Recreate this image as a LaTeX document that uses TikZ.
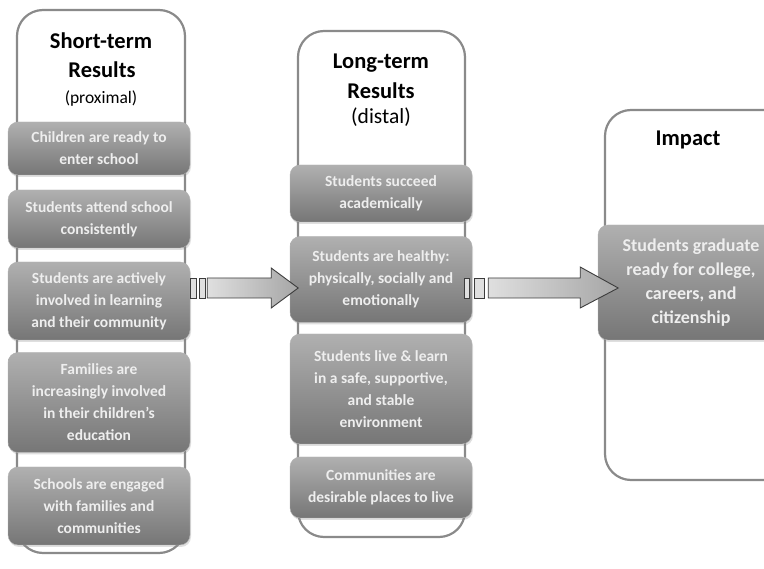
\documentclass[tikz,border=0pt]{standalone}
\usepackage{fontspec}
\setmainfont{Carlito}
\usetikzlibrary{calc,shadows}
\definecolor{frame}{RGB}{138,138,138}
\definecolor{boxtop}{RGB}{176,176,176}
\definecolor{boxbot}{RGB}{118,118,118}
\definecolor{boxtext}{RGB}{238,238,238}
\definecolor{arrline}{RGB}{60,60,60}
\tikzset{
  container/.style={draw=frame, line width=2.2pt, fill=white, rounded corners=26pt},
  result/.style={rounded corners=10pt, top color=boxtop, bottom color=boxbot, draw=gray!60,
    line width=0.4pt, text=boxtext, align=center, inner sep=0pt,
    font=\bfseries\fontsize{15.5}{22}\selectfont,
    drop shadow={opacity=0.25, shadow xshift=1pt, shadow yshift=-2pt}},
  title/.style={font=\bfseries\fontsize{22.5}{26}\selectfont, inner sep=0pt},
  subtitle/.style={font=\fontsize{17.5}{20}\selectfont, inner sep=0pt},
  bigarrow/.style={draw=arrline, line width=0.9pt, left color=gray!25, right color=gray!70},
  stub/.style={draw=arrline, line width=0.9pt, fill=gray!25}
}
\begin{document}
\begin{tikzpicture}[x=1pt,y=-1pt]
\useasboundingbox (0,0) rectangle (764,569);
\clip (0,0) rectangle (764,569);
% containers
\draw[container] (17,10) rectangle (185,553);
\draw[container] (298,31) rectangle (465,537);
\draw[container] (605,110) rectangle (790,480);
% titles
\node[title] (t1a) at (101,41) {Short-term};
\node[title] (t1b) at (102,70) {Results};
\node[subtitle] (t1c) at (101,99) {(proximal)};
\node[title] (t2a) at (381,63) {Long-term};
\node[title] (t2b) at (381,91) {Results};
\node[subtitle, font=\fontsize{21.5}{24}\selectfont] (t2c) at (381,117) {(distal)};
\node[title] (t3a) at (688,140) {Impact};
% left column
\node[result, minimum width=182pt, minimum height=53pt] (l1) at (99,148.5) {Children are ready to\\enter school};
\node[result, minimum width=182pt, minimum height=58pt] (l2) at (99,219) {Students attend school\\consistently};
\node[result, minimum width=182pt, minimum height=78pt] (l3) at (99,301) {Students are actively\\involved in learning\\and their community};
\node[result, minimum width=182pt, minimum height=100pt] (l4) at (99,402.5) {Families are\\increasingly involved\\in their children’s\\education};
\node[result, minimum width=182pt, minimum height=78pt] (l5) at (99,506) {Schools are engaged\\with families and\\communities};
% middle column
\node[result, minimum width=182pt, minimum height=57pt] (m1) at (381,193.5) {Students succeed\\academically};
\node[result, minimum width=182pt, minimum height=86pt] (m2) at (381,279.5) {Students are healthy:\\physically, socially and\\emotionally};
\node[result, minimum width=182pt, minimum height=110pt] (m3) at (381,389) {Students live \& learn\\in a safe, supportive,\\and stable\\environment};
\node[result, minimum width=182pt, minimum height=61pt] (m4) at (381,487.5) {Communities are\\desirable places to live};
% impact
\node[result, font=\bfseries\fontsize{18}{24}\selectfont, minimum width=186pt, minimum height=115pt] (i1) at (691,282.5) {Students graduate\\ready for college,\\careers, and\\citizenship};
% arrow 1
\coordinate (a1) at (l3.east |- 0,288);
\draw[stub] ($(a1)+(0,-10)$) rectangle ($(a1)+(6,10)$);
\draw[stub] ($(a1)+(9,-10)$) rectangle ($(a1)+(15,10)$);
\draw[bigarrow] ($(a1)+(17,-10)$) -- ($(a1)+(81,-10)$) -- ($(a1)+(81,-20)$) -- ($(a1)+(108,0)$)
  -- ($(a1)+(81,20)$) -- ($(a1)+(81,10)$) -- ($(a1)+(17,10)$) -- cycle;
% arrow 2
\coordinate (a2) at (m2.east |- 0,288);
\draw[stub] ($(a2)+(-8,-10)$) rectangle ($(a2)+(-3,10)$);
\draw[stub] ($(a2)+(2,-10)$) rectangle ($(a2)+(12,10)$);
\draw[bigarrow] ($(a2)+(16,-10)$) -- ($(a2)+(108,-10)$) -- ($(a2)+(108,-21)$) -- ($(a2)+(146,0)$)
  -- ($(a2)+(108,20)$) -- ($(a2)+(108,10)$) -- ($(a2)+(16,10)$) -- cycle;
\end{tikzpicture}
\end{document}
